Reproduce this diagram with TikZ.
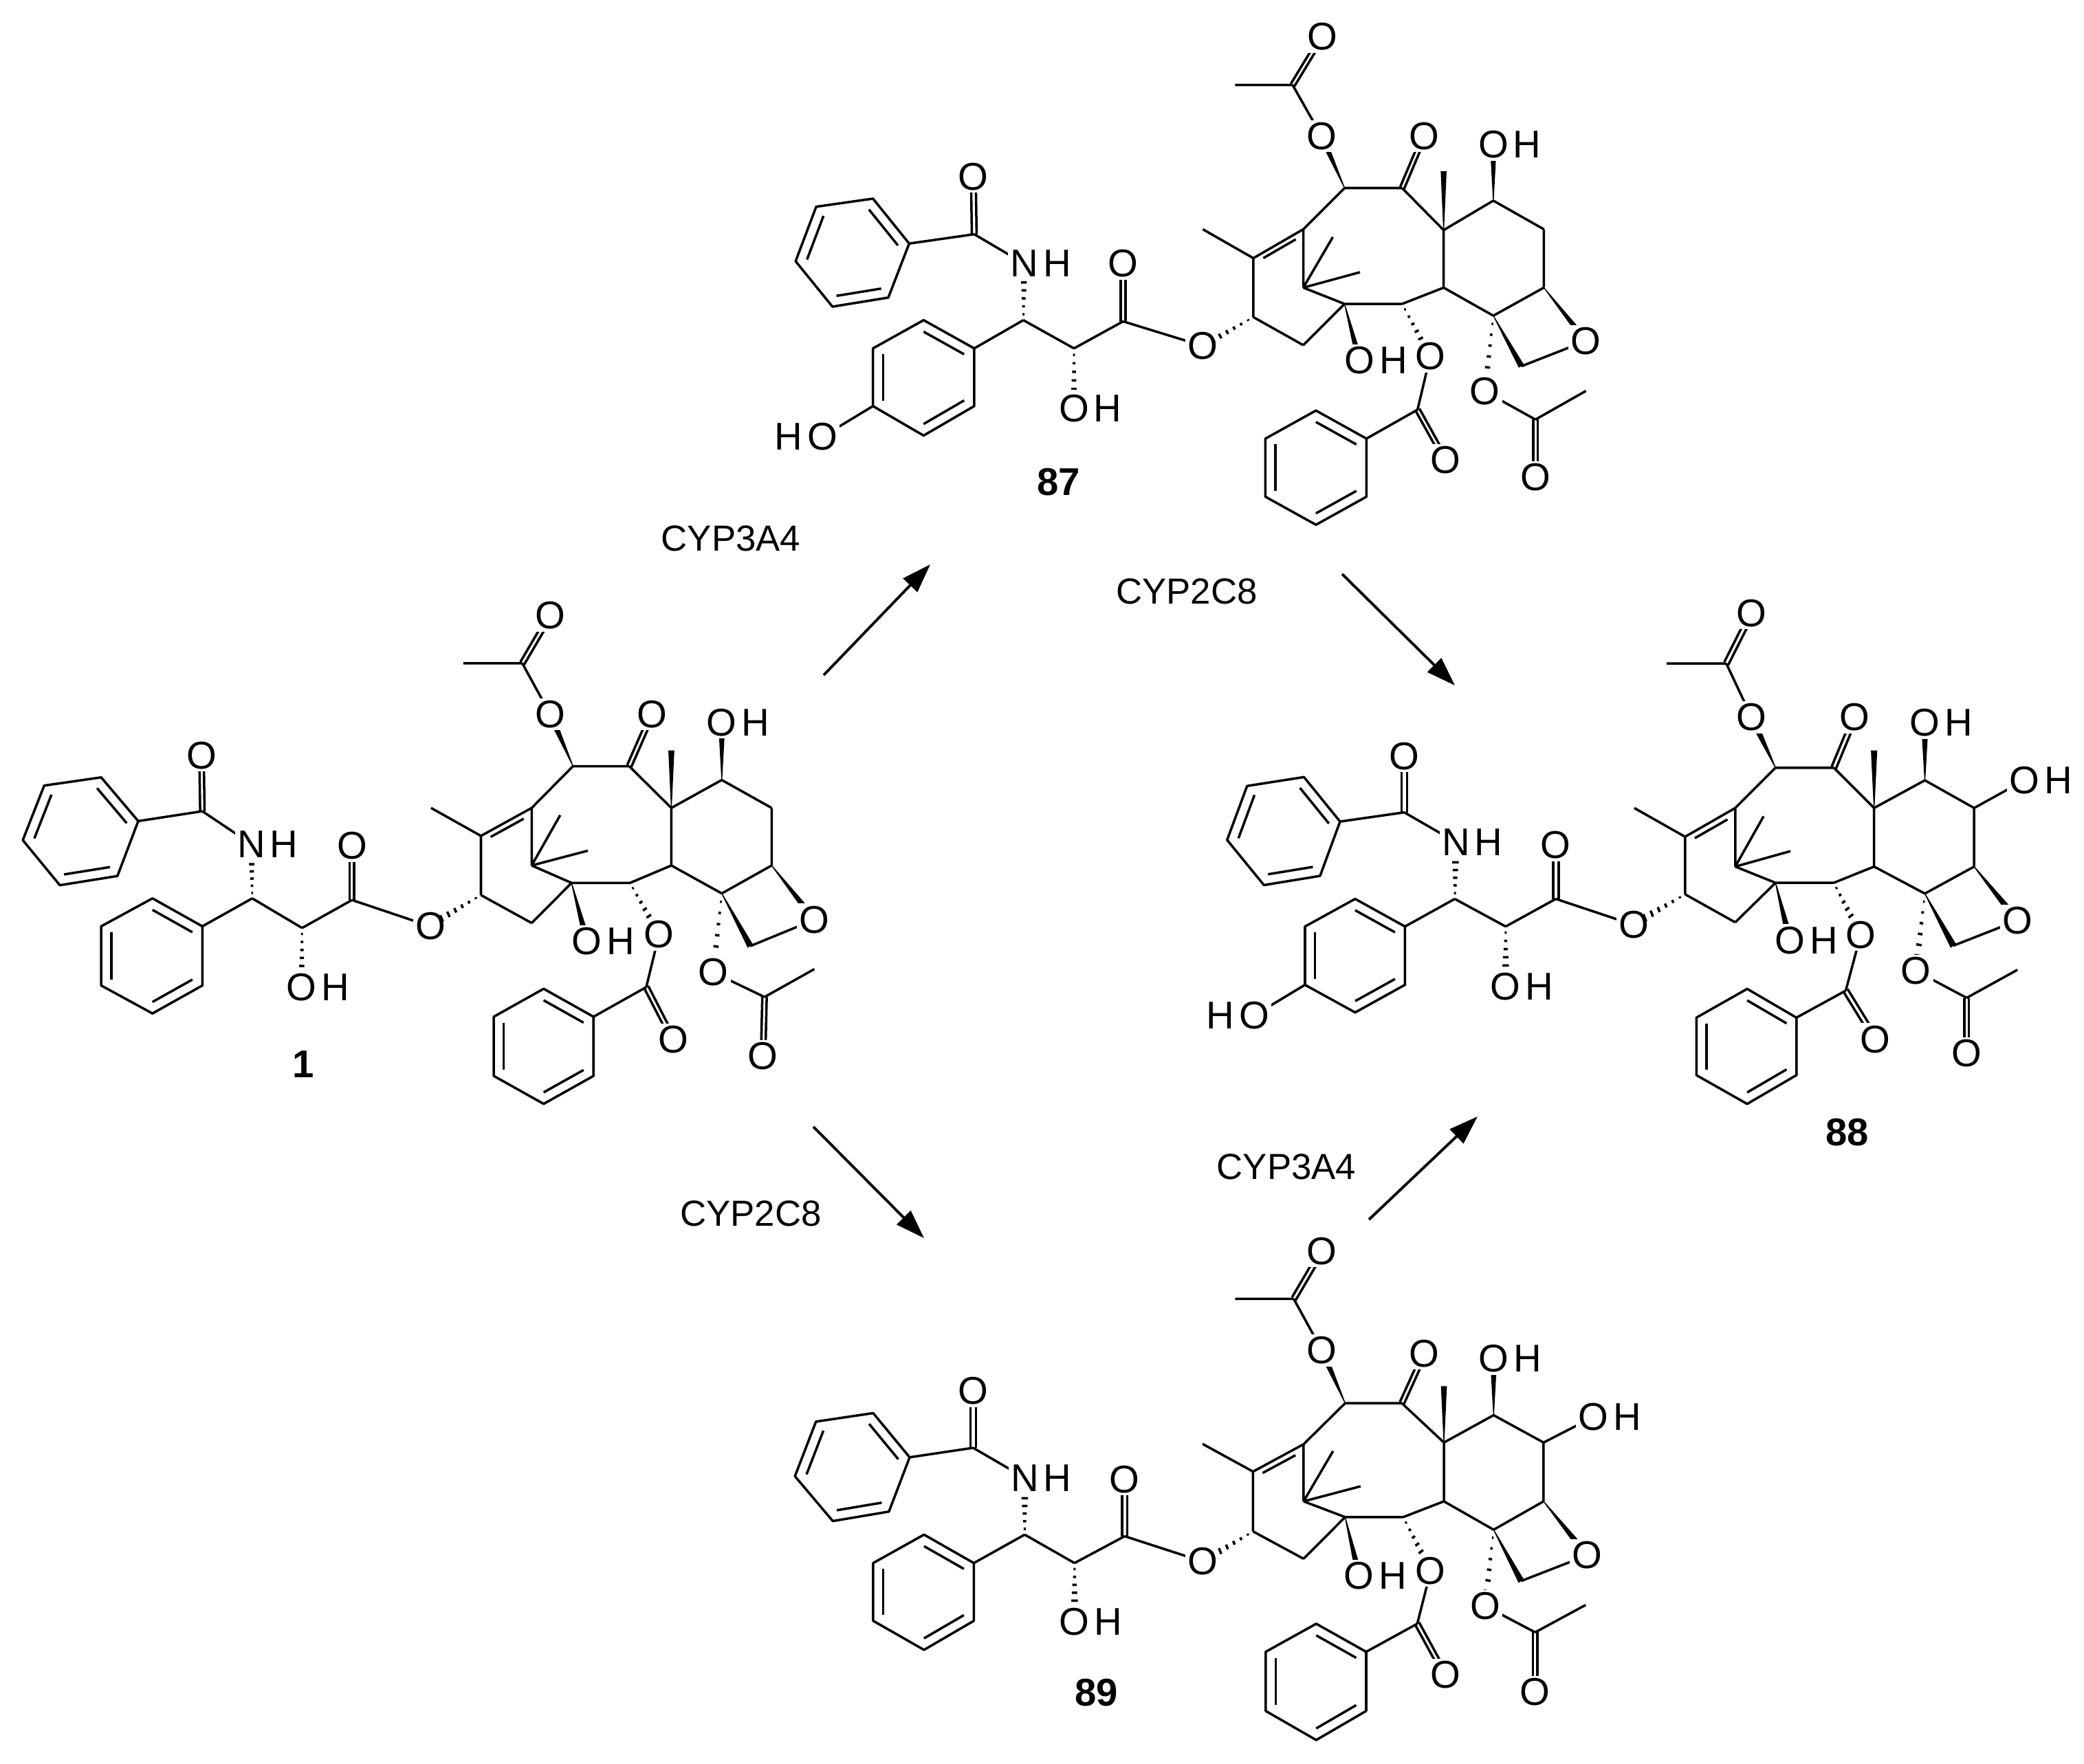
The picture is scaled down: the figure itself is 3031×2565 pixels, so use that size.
\documentclass[tikz,border=0pt]{standalone}
\usepackage{fontspec}
\setmainfont{Liberation Sans}
\usetikzlibrary{calc,arrows.meta}
\tikzset{
  atom/.style={font=\fontsize{16}{19}\selectfont, inner sep=1pt, fill=white},
  cmpd/.style={font=\fontsize{16}{19}\selectfont\bfseries},
  enz/.style={font=\fontsize{15}{18}\selectfont},
  rxn/.style={line width=1.1pt,-{Triangle[length=12pt,width=8pt]}},
}
\newcommand\hexa[6]{\draw (#1)--(#2)--(#3)--(#4)--(#5)--(#6)--cycle;
 \coordinate (hc) at ($(#1)!.5!(#4)$);
 \draw ($(#2)!.2!(hc)$)--($(#3)!.2!(hc)$);
 \draw ($(#4)!.2!(hc)$)--($(#5)!.2!(hc)$);
 \draw ($(#6)!.2!(hc)$)--($(#1)!.2!(hc)$);}
\newcommand\dbl[2]{\draw ($(#1)!2.2pt!90:(#2)$) -- ($(#2)!2.2pt!-90:(#1)$);
 \draw ($(#1)!2.2pt!-90:(#2)$) -- ($(#2)!2.2pt!90:(#1)$);}
\newcommand\inb[2]{\draw ($(#1)!0.15!(#2)!5pt!-90:(#2)$) -- ($(#1)!0.8!(#2)!5pt!-90:(#2)$);}
\newcommand\wdg[3]{\coordinate (wq) at ($(#2)!#3!(#1)$);
 \fill ($(#1)!0.4pt!90:(wq)$) -- ($(wq)!3pt!-90:(#1)$) -- ($(wq)!3pt!90:(#1)$) -- ($(#1)!0.4pt!-90:(wq)$) -- cycle;}
\newcommand\hsh[3]{\coordinate (hq) at ($(#2)!#3!(#1)$);
 \foreach \t in {0.12,0.28,0.44,0.6,0.76,0.92}{\draw ($(#1)!\t!(hq)!{0.5pt+\t*2.8pt}!90:(hq)$) -- ($(#1)!\t!(hq)!{0.5pt+\t*2.8pt}!-90:(hq)$);}}
\newcommand\Oat[1]{\node[atom] (o#1) at (#1) {O};}
\newcommand\OH[1]{\node[atom] (o#1) at (#1) {O}; \node[atom,anchor=base west,inner xsep=0pt] (h#1) at (o#1.base east) {H};}
\newcommand\HO[1]{\node[atom] (o#1) at (#1) {O}; \node[atom,anchor=base east,inner xsep=0pt] (h#1) at (o#1.base west) {H};}
\newcommand\NH[1]{\node[atom] (n#1) at (#1) {N}; \node[atom,anchor=base west,inner xsep=0pt] (h#1) at (n#1.base east) {H};}
% side chain
\newcommand\side{%
 \hexa{A}{B}{C}{D}{E}{F}
 \hexa{P1}{P2}{P3}{P4}{P5}{P6}
 \draw (F)--(K) (K)--(N) (C3p)--(P6) (C3p)--(C2p) (C2p)--(C1p) (C1p)--(Oe);
 \dbl{K}{KO} \dbl{C1p}{O1p}
 \hsh{C3p}{N}{8pt} \hsh{C2p}{O2p}{8pt}
 \Oat{KO} \NH{N} \OH{O2p} \Oat{O1p} \Oat{Oe}}
% core
\newcommand\core{%
 \draw (C13)--(C12) (C12)--(Me12) (C12)--(C11) (C11)--(C10) (C11)--(C15) (C10)--(C9) (C9)--(C8)
  (C8)--(C7) (C8)--(C3) (C7)--(C6) (C6)--(C5) (C5)--(C4) (C4)--(C3) (C3)--(C2) (C2)--(C1)
  (C1)--(C15) (C15)--(Ma) (C15)--(Mb) (C1)--(C14) (C14)--(C13) (C20)--(Oox) (O2)--(BzC)
  (BzC)--(R6) (O4)--(AcCb) (AcCb)--(AcMeb) (O10)--(AcC) (AcC)--(AcMe);
 \dbl{C9}{O9} \dbl{BzC}{BzO} \dbl{AcCb}{AcOb} \dbl{AcC}{AcO}
 \inb{C12}{C11}
 \wdg{C10}{O10}{8pt} \wdg{C8}{Me8}{0pt} \wdg{C7}{O7}{8pt} \wdg{C1}{O1}{8pt}
 \wdg{C5}{Oox}{8pt} \wdg{C4}{C20}{0pt}
 \hsh{C13}{O13}{8pt} \hsh{C2}{O2}{8pt} \hsh{C4}{O4}{8pt}
 \hexa{R1}{R2}{R3}{R4}{R5}{R6}
 \Oat{O10} \Oat{AcO} \Oat{O9} \OH{O7} \OH{O1} \Oat{O2} \Oat{BzO} \Oat{O4} \Oat{AcOb} \Oat{Oox}}
\begin{document}
\begin{tikzpicture}[x=0.01cm,y=-0.01cm,line width=1pt,line join=round]
\useasboundingbox (0,0) rectangle (3031,2565);
% ===== compound 1 =====
\begin{scope}[shift={(0,850)},xscale=0.4145,yscale=0.4783]
 \coordinate (A) at (355,587); \coordinate (B) at (155,612); \coordinate (C) at (80,778);
 \coordinate (D) at (210,915); \coordinate (E) at (412,887); \coordinate (F) at (485,720);
 \coordinate (K) at (710,690); \coordinate (KO) at (707,520); \coordinate (N) at (882,790);
 \coordinate (C3p) at (885,955);
 \coordinate (P1) at (535,955); \coordinate (P2) at (355,1040); \coordinate (P3) at (355,1220);
 \coordinate (P4) at (535,1305); \coordinate (P5) at (710,1220); \coordinate (P6) at (710,1040);
 \coordinate (C2p) at (1060,1045); \coordinate (O2p) at (1058,1225);
 \coordinate (C1p) at (1235,960); \coordinate (O1p) at (1235,795); \coordinate (Oe) at (1510,1040);
 \side
 \node[cmpd] (lab1) at (1065,1460) {1};
\end{scope}
\begin{scope}[shift={(600,850)},xscale=0.4145,yscale=0.4783]
 \coordinate (O13) at (65,1035); \coordinate (C13) at (240,945); \coordinate (C12) at (240,765);
 \coordinate (Me12) at (65,680); \coordinate (C11) at (418,680); \coordinate (C10) at (563,553);
 \coordinate (O10) at (483,395); \coordinate (AcC) at (385,240); \coordinate (AcO) at (483,95);
 \coordinate (AcMe) at (178,240); \coordinate (C9) at (760,553); \coordinate (O9) at (840,395);
 \coordinate (C8) at (908,680); \coordinate (Me8) at (908,505); \coordinate (C7) at (1085,595);
 \coordinate (O7) at (1085,420); \coordinate (C6) at (1260,680); \coordinate (C5) at (1260,855);
 \coordinate (C4) at (1085,940); \coordinate (C3) at (908,855); \coordinate (C2) at (763,908);
 \coordinate (C1) at (558,908); \coordinate (C15) at (418,855); \coordinate (Ma) at (518,702);
 \coordinate (Mb) at (615,810); \coordinate (C14) at (418,1030); \coordinate (O1) at (612,1085);
 \coordinate (O2) at (865,1065); \coordinate (BzC) at (820,1225); \coordinate (BzO) at (915,1385);
 \coordinate (R1) at (460,1230); \coordinate (R2) at (285,1315); \coordinate (R3) at (285,1495);
 \coordinate (R4) at (460,1580); \coordinate (R5) at (635,1495); \coordinate (R6) at (635,1315);
 \coordinate (O4) at (1055,1180); \coordinate (AcCb) at (1235,1255); \coordinate (AcMeb) at (1410,1170);
 \coordinate (AcOb) at (1230,1435); \coordinate (C20) at (1185,1100); \coordinate (Oox) at (1410,1020);
 \core
\end{scope}
% ===== compound 87 =====
\begin{scope}[shift={(1100,180)},xscale=0.4464,yscale=0.3571]
 \coordinate (A) at (380,305); \coordinate (B) at (195,338); \coordinate (C) at (128,560);
 \coordinate (D) at (248,745); \coordinate (E) at (430,708); \coordinate (F) at (498,488);
 \coordinate (K) at (710,450); \coordinate (KO) at (707,215); \coordinate (N) at (873,570);
 \coordinate (C3p) at (870,800);
 \coordinate (P1) at (545,800); \coordinate (P2) at (380,915); \coordinate (P3) at (380,1150);
 \coordinate (P4) at (545,1270); \coordinate (P5) at (710,1150); \coordinate (P6) at (710,915);
 \coordinate (C2p) at (1035,915); \coordinate (O2p) at (1035,1160);
 \coordinate (C1p) at (1195,805); \coordinate (O1p) at (1195,570); \coordinate (Oe) at (1455,905);
 \coordinate (HOa) at (215,1275);
 \draw (P3)--(HOa);
 \side
 \HO{HOa}
 \node[cmpd] (lab87) at (985,1460) {87};
\end{scope}
\begin{scope}[shift={(1780,100)},xscale=0.4082,yscale=0.4082]
 \coordinate (O13) at (-75,988); \coordinate (C13) at (105,885); \coordinate (C12) at (105,675);
 \coordinate (Me12) at (-75,572); \coordinate (C11) at (283,572); \coordinate (C10) at (430,425);
 \coordinate (O10) at (348,240); \coordinate (AcC) at (245,58); \coordinate (AcO) at (350,-115);
 \coordinate (AcMe) at (40,58); \coordinate (C9) at (635,425); \coordinate (O9) at (713,240);
 \coordinate (C8) at (783,575); \coordinate (Me8) at (783,365); \coordinate (C7) at (960,470);
 \coordinate (O7) at (960,270); \coordinate (C6) at (1140,572); \coordinate (C5) at (1140,780);
 \coordinate (C4) at (960,880); \coordinate (C3) at (783,780); \coordinate (C2) at (635,838);
 \coordinate (C1) at (430,838); \coordinate (C15) at (283,780); \coordinate (Ma) at (388,600);
 \coordinate (Mb) at (485,725); \coordinate (C14) at (283,985); \coordinate (O1) at (483,1040);
 \coordinate (O2) at (735,1025); \coordinate (BzC) at (690,1215); \coordinate (BzO) at (790,1395);
 \coordinate (R1) at (328,1218); \coordinate (R2) at (148,1318); \coordinate (R3) at (148,1525);
 \coordinate (R4) at (328,1625); \coordinate (R5) at (508,1525); \coordinate (R6) at (508,1318);
 \coordinate (O4) at (930,1150); \coordinate (AcCb) at (1110,1250); \coordinate (AcMeb) at (1290,1148);
 \coordinate (AcOb) at (1110,1455); \coordinate (C20) at (1060,1060); \coordinate (Oox) at (1290,970);
 \core
\end{scope}
% ===== compound 88 =====
\begin{scope}[shift={(1750,850)},xscale=0.5102,yscale=0.4464]
 \coordinate (A) at (287,628); \coordinate (B) at (125,657); \coordinate (C) at (68,833);
 \coordinate (D) at (173,980); \coordinate (E) at (333,950); \coordinate (F) at (390,773);
 \coordinate (K) at (573,743); \coordinate (KO) at (573,560); \coordinate (N) at (720,840);
 \coordinate (C3p) at (717,1025);
 \coordinate (P1) at (433,1025); \coordinate (P2) at (290,1115); \coordinate (P3) at (290,1305);
 \coordinate (P4) at (433,1395); \coordinate (P5) at (575,1305); \coordinate (P6) at (575,1115);
 \coordinate (C2p) at (862,1115); \coordinate (O2p) at (862,1310);
 \coordinate (C1p) at (1005,1025); \coordinate (O1p) at (1005,850); \coordinate (Oe) at (1228,1110);
 \coordinate (HOb) at (145,1405);
 \draw (P3)--(HOb);
 \side
 \HO{HOb}
\end{scope}
\begin{scope}[shift={(2350,850)},xscale=0.4343,yscale=0.5230]
 \coordinate (O13) at (60,945); \coordinate (C13) at (232,862); \coordinate (C12) at (232,702);
 \coordinate (Me12) at (62,622); \coordinate (C11) at (400,622); \coordinate (C10) at (535,510);
 \coordinate (O10) at (455,370); \coordinate (AcC) at (370,220); \coordinate (AcO) at (455,80);
 \coordinate (AcMe) at (170,220); \coordinate (C9) at (730,510); \coordinate (O9) at (800,370);
 \coordinate (C8) at (865,622); \coordinate (Me8) at (865,462); \coordinate (C7) at (1035,545);
 \coordinate (O7) at (1035,385); \coordinate (C6) at (1200,622); \coordinate (C5) at (1200,785);
 \coordinate (C4) at (1035,860); \coordinate (C3) at (865,785); \coordinate (C2) at (730,830);
 \coordinate (C1) at (535,830); \coordinate (C15) at (400,785); \coordinate (Ma) at (495,645);
 \coordinate (Mb) at (585,742); \coordinate (C14) at (400,940); \coordinate (O1) at (583,990);
 \coordinate (O2) at (820,975); \coordinate (BzC) at (770,1130); \coordinate (BzO) at (870,1265);
 \coordinate (R1) at (440,1125); \coordinate (R2) at (270,1205); \coordinate (R3) at (270,1365);
 \coordinate (R4) at (440,1445); \coordinate (R5) at (605,1365); \coordinate (R6) at (605,1205);
 \coordinate (O4) at (1005,1075); \coordinate (AcCb) at (1175,1150); \coordinate (AcMeb) at (1345,1072);
 \coordinate (AcOb) at (1175,1305); \coordinate (C20) at (1130,1005); \coordinate (Oox) at (1345,935);
 \coordinate (O6) at (1368,545);
 \draw (C6)--(O6);
 \core
 \OH{O6}
 \node[cmpd] (lab88) at (775,1525) {88};
\end{scope}
% ===== compound 89 =====
\begin{scope}[shift={(1100,1780)},xscale=0.5102,yscale=0.4592]
 \coordinate (A) at (333,600); \coordinate (B) at (170,627); \coordinate (C) at (110,800);
 \coordinate (D) at (218,942); \coordinate (E) at (378,912); \coordinate (F) at (437,740);
 \coordinate (K) at (618,710); \coordinate (KO) at (618,530); \coordinate (N) at (765,805);
 \coordinate (C3p) at (765,985);
 \coordinate (P1) at (478,985); \coordinate (P2) at (333,1075); \coordinate (P3) at (333,1258);
 \coordinate (P4) at (478,1350); \coordinate (P5) at (620,1258); \coordinate (P6) at (620,1075);
 \coordinate (C2p) at (907,1075); \coordinate (O2p) at (907,1260);
 \coordinate (C1p) at (1050,990); \coordinate (O1p) at (1050,810); \coordinate (Oe) at (1272,1070);
 \side
 \node[cmpd] (lab89) at (970,1485) {89};
\end{scope}
\begin{scope}[shift={(1800,1780)},xscale=0.4082,yscale=0.4974]
 \coordinate (O13) at (-125,988); \coordinate (C13) at (55,900); \coordinate (C12) at (55,725);
 \coordinate (Me12) at (-125,644); \coordinate (C11) at (235,645); \coordinate (C10) at (383,525);
 \coordinate (O10) at (300,370); \coordinate (AcC) at (200,220); \coordinate (AcO) at (300,80);
 \coordinate (AcMe) at (-9,220); \coordinate (C9) at (585,525); \coordinate (O9) at (665,380);
 \coordinate (C8) at (735,640); \coordinate (Me8) at (735,475); \coordinate (C7) at (912,560);
 \coordinate (O7) at (912,395); \coordinate (C6) at (1090,640); \coordinate (C5) at (1090,812);
 \coordinate (C4) at (912,895); \coordinate (C3) at (735,812); \coordinate (C2) at (590,858);
 \coordinate (C1) at (383,858); \coordinate (C15) at (235,812); \coordinate (Ma) at (340,665);
 \coordinate (Mb) at (438,768); \coordinate (C14) at (235,980); \coordinate (O1) at (433,1030);
 \coordinate (O2) at (688,1015); \coordinate (BzC) at (640,1170); \coordinate (BzO) at (740,1320);
 \coordinate (R1) at (280,1170); \coordinate (R2) at (100,1252); \coordinate (R3) at (100,1425);
 \coordinate (R4) at (280,1510); \coordinate (R5) at (458,1425); \coordinate (R6) at (458,1252);
 \coordinate (O4) at (882,1118); \coordinate (AcCb) at (1060,1195); \coordinate (AcMeb) at (1240,1115);
 \coordinate (AcOb) at (1060,1370); \coordinate (C20) at (1010,1045); \coordinate (Oox) at (1245,970);
 \coordinate (O6) at (1268,565);
 \draw (C6)--(O6);
 \core
 \OH{O6}
\end{scope}
% ===== reaction arrows =====
\coordinate (a1s) at (1198,982); \coordinate (a1e) at (1353,821);
\coordinate (a2s) at (1952,835); \coordinate (a2e) at (2116,997);
\coordinate (a3s) at (1183,1639); \coordinate (a3e) at (1344,1801);
\coordinate (a4s) at (1991,1774); \coordinate (a4e) at (2149,1624);
\draw[rxn] (a1s) -- (a1e);
\draw[rxn] (a2s) -- (a2e);
\draw[rxn] (a3s) -- (a3e);
\draw[rxn] (a4s) -- (a4e);
\node[enz] (e1) at (1063,783) {CYP3A4};
\node[enz] (e2) at (1726,860) {CYP2C8};
\node[enz] (e3) at (1092,1765) {CYP2C8};
\node[enz] (e4) at (1871,1697) {CYP3A4};
\end{tikzpicture}
\end{document}
